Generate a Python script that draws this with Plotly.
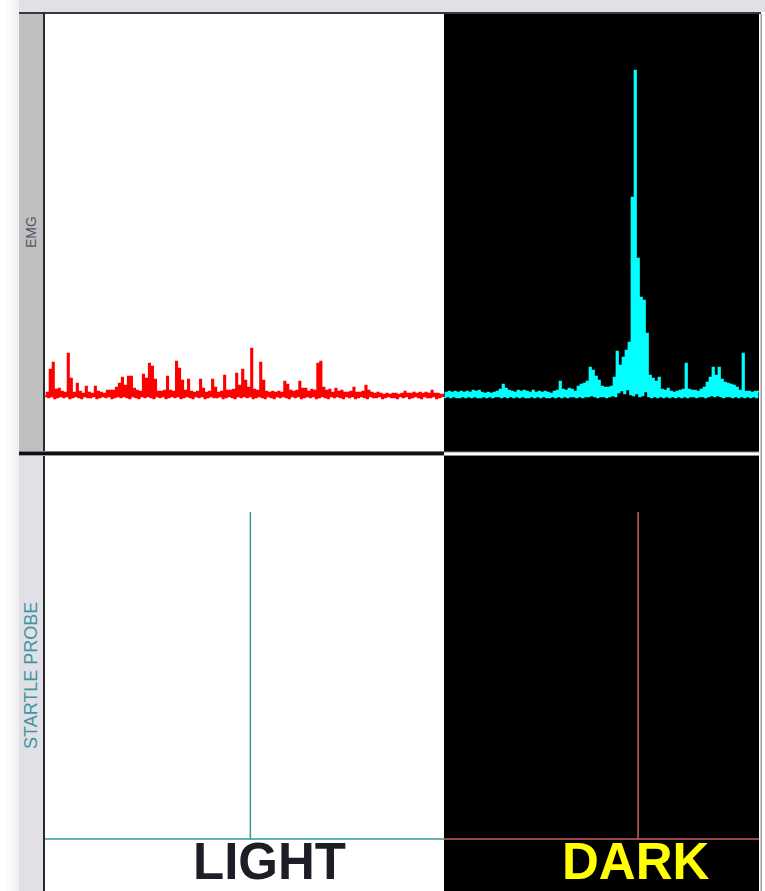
import plotly.graph_objects as go

W, H = 765, 891

# ---------------------------------------------------------------------------
# Data
# ---------------------------------------------------------------------------
bin_ms = 10  # EMG envelope bin width (ms)

# Rectified EMG, per-bin peak and trough (uV relative to resting baseline)
light_hi = [
    3, 26, 33, 6, 7, 4, 3, 42, 17, 3,
    12, 4, 2, 9, 3, 2, 9, 4, 3, 2,
    5, 5, 5, 8, 12, 18, 10, 19, 19, 7,
    5, 4, 21, 17, 32, 29, 16, 4, 4, 5,
    19, 5, 4, 34, 27, 15, 5, 16, 4, 3,
    4, 16, 7, 3, 4, 16, 8, 3, 4, 20,
    5, 5, 6, 22, 10, 26, 15, 8, 47, 6,
    5, 33, 15, 4, 3, 4, 3, 4, 3, 14,
    11, 5, 4, 5, 14, 7, 7, 4, 6, 5,
    32, 34, 8, 5, 6, 3, 7, 4, 5, 3,
    3, 4, 8, 3, 3, 4, 10, 5, 3, 2,
    3, 2, 1, 2, 1, 2, 2, 1, 2, 4,
    2, 2, 3, 2, 3, 2, 3, 2, 5, 2,
    2, 1, 1,
]
light_lo = [
    -1, -2, -1, -3, -2, -1, -2, -1, -3, -2,
    -1, -2, -3, -1, -2, -2, -1, -3, -2, -1,
    -2, -1, -3, -2, -1, -2, -1, -2, -3, -1,
    -2, -3, -1, -2, -1, -2, -3, -1, -2, -1,
    -3, -2, -1, -2, -1, -3, -2, -1, -2, -3,
    -1, -2, -1, -3, -2, -1, -2, -2, -1, -3,
    -2, -1, -2, -3, -1, -2, -1, -2, -1, -3,
    -2, -1, -2, -3, -1, -2, -3, -1, -2, -1,
    -2, -3, -1, -2, -1, -3, -2, -1, -2, -1,
    -3, -2, -1, -2, -3, -1, -2, -1, -2, -3,
    -1, -2, -1, -3, -2, -1, -2, -3, -1, -2,
    -2, -1, -3, -2, -1, -2, -2, -3, -1, -2,
    -1, -3, -2, -1, -2, -3, -1, -2, -2, -1,
    -3, -2, -1,
]
dark_hi = [
    3, 4, 3, 4, 3, 4, 3, 4, 3, 5,
    4, 5, 3, 2, 3, 2, 3, 4, 6, 11,
    7, 5, 4, 3, 5, 4, 5, 4, 3, 5,
    3, 4, 3, 4, 3, 2, 4, 5, 14, 6,
    5, 7, 6, 4, 9, 11, 12, 14, 28, 25,
    19, 15, 9, 8, 8, 9, 18, 44, 30, 38,
    45, 53, 198, 325, 137, 98, 95, 62, 20, 17,
    14, 18, 6, 5, 7, 4, 3, 4, 5, 6,
    32, 6, 5, 5, 4, 6, 8, 13, 18, 28,
    20, 28, 16, 13, 12, 11, 10, 8, 5, 42,
    4, 4, 3, 4, 4,
]
dark_lo = [
    -2, -1, -2, -1, -2, -2, -1, -2, -1, -2,
    -1, -2, -2, -1, -2, -1, -2, -1, -1, -2,
    -1, -2, -1, -2, -1, -2, -1, -2, -2, -1,
    -2, -1, -2, -1, -2, -2, -1, -2, -1, -2,
    -1, -2, -1, -1, -2, -1, -2, -1, -1, 0,
    -1, -2, -1, -1, -2, -1, 0, -1, 3, 5,
    2, 6, 1, 0, 2, -1, 0, 4, -1, -2,
    -1, -2, -1, -2, -1, -2, -1, -2, -1, -2,
    -1, -2, -1, -1, -2, -1, -1, -2, -1, 0,
    -1, 0, -1, -2, -1, -1, -2, -1, -2, -1,
    -2, -1, -2, -1, -2,
]

# Startle probe: onset within each epoch (ms) and normalised amplitude
conditions = ["LIGHT", "DARK"]
probe_onset_ms = [683, 647]
probe_amp = [1.0, 1.0]

# Epoch lengths (ms) shown in each column
epoch_ms = [1327, 1050]


# ---------------------------------------------------------------------------
# Helpers
# ---------------------------------------------------------------------------
def px(x):
    return x / W


def py(y):
    return 1 - y / H


def envelope(hi, lo):
    """Min/max decimated trace: trough then peak within every bin."""
    xs, ys = [], []
    for k, (h, l) in enumerate(zip(hi, lo)):
        xs += [k * bin_ms, k * bin_ms + bin_ms / 2]
        ys += [l, h]
    xs.append(len(hi) * bin_ms)
    ys.append(hi[-1])
    return xs, ys


def probe_trace(onset, amp, length):
    return [0, onset, onset, onset, length], [0, 0, amp, 0, 0]


# ---------------------------------------------------------------------------
# Figure
# ---------------------------------------------------------------------------
fig = go.Figure()

lx, ly = envelope(light_hi, light_lo)
dx, dy = envelope(dark_hi, dark_lo)
fig.add_trace(go.Scatter(x=lx, y=ly, mode="lines", line=dict(color="#ff0000", width=1.6, shape="hv"),
                         xaxis="x", yaxis="y", hoverinfo="skip"))
fig.add_trace(go.Scatter(x=dx, y=dy, mode="lines", line=dict(color="#00ffff", width=1.7, shape="hv"),
                         xaxis="x2", yaxis="y2", hoverinfo="skip"))

probe_colors = ["#2f9c9c", "#c8625e"]
for i, (cond, onset, amp) in enumerate(zip(conditions, probe_onset_ms, probe_amp)):
    x, y = probe_trace(onset, amp, epoch_ms[i])
    fig.add_trace(go.Scatter(x=x, y=y, mode="lines", line=dict(color=probe_colors[i], width=1.5),
                             xaxis="x3" if i == 0 else "x4", yaxis="y3" if i == 0 else "y4",
                             hoverinfo="skip", name=cond))

# panel geometry (pixels)
light_x = (45, 444)
dark_x = (444, 759)
top_y = (14, 452)
bot_y = (456, 891)
emg_base = 395.5
probe_base, probe_top = 839, 512

emg_range = [emg_base - top_y[1], emg_base - top_y[0]]
scale = probe_base - probe_top
probe_range = [(probe_base - bot_y[1]) / scale, (probe_base - bot_y[0]) / scale]

hidden = dict(visible=False, fixedrange=True)
fig.update_layout(
    xaxis=dict(domain=[px(light_x[0]), px(light_x[1])], range=[0, epoch_ms[0]], anchor="y", **hidden),
    xaxis2=dict(domain=[px(dark_x[0]), px(dark_x[1])], range=[0, epoch_ms[1]], anchor="y2", **hidden),
    xaxis3=dict(domain=[px(light_x[0]), px(light_x[1])], range=[0, epoch_ms[0]], anchor="y3", **hidden),
    xaxis4=dict(domain=[px(dark_x[0]), px(dark_x[1])], range=[0, epoch_ms[1]], anchor="y4", **hidden),
    yaxis=dict(domain=[py(top_y[1]), py(top_y[0])], range=emg_range, anchor="x", **hidden),
    yaxis2=dict(domain=[py(top_y[1]), py(top_y[0])], range=emg_range, anchor="x2", **hidden),
    yaxis3=dict(domain=[py(bot_y[1]), py(bot_y[0])], range=probe_range, anchor="x3", **hidden),
    yaxis4=dict(domain=[py(bot_y[1]), py(bot_y[0])], range=probe_range, anchor="x4", **hidden),
)


def rect(x0, y0, x1, y1, color):
    return dict(type="rect", xref="paper", yref="paper", x0=px(x0), x1=px(x1), y0=py(y1), y1=py(y0),
                fillcolor=color, line=dict(width=0), layer="below")


shapes = [
    # soft shading on the left margin
    rect(0, 0, 7, H, "#ffffff"),
    rect(7, 0, 12, H, "#fbfbfb"),
    rect(12, 0, 16, H, "#f6f6f7"),
    rect(16, 0, 19, H, "#f0f0f2"),
    # header bar
    rect(19, 0, W, 12, "#e1e0e6"),
    rect(19, 12, 761, 14, "#3a3a3a"),
    # channel label strips
    rect(19, 14, 43, 452, "#c0c0c0"),
    rect(19, 456, 43, H, "#e1e0e6"),
    rect(43, 12, 45, H, "#2a2a2a"),
    # dark-condition panels
    rect(444, 14, 759, 452, "#000000"),
    rect(444, 456, 759, H, "#000000"),
    # channel separator
    rect(19, 451, 444, 452, "#7a7a7a"),
    rect(19, 452, 444, 455, "#111111"),
    rect(19, 455, 444, 456, "#9a9a9a"),
    rect(444, 451.5, 759, 456, "#8a8a8a"),
    rect(444, 452.5, 759, 455, "#ffffff"),
    # right frame edge
    rect(759, 14, 760.5, H, "#ffffff"),
    rect(760.5, 14, 762, H, "#9a9a9a"),
]
fig.update_layout(shapes=shapes)

annotations = [
    dict(text="EMG", x=px(31), y=py(232), textangle=-90, yanchor="middle",
         font=dict(family="Arial", size=14, color="#55556a")),
    dict(text="STARTLE PROBE", x=px(31), y=py(676), textangle=-90, yanchor="middle",
         font=dict(family="Arial", size=18, color="#3f96a3")),
    dict(text="<b>LIGHT</b>", x=px(269), y=py(890.5), yanchor="bottom",
         font=dict(family="Arial", size=51, color="#1d1d25")),
    dict(text="<b>DARK</b>", x=px(635), y=py(890.5), yanchor="bottom",
         font=dict(family="Arial", size=51, color="#ffff00")),
]
for a in annotations:
    a.update(xref="paper", yref="paper", showarrow=False, xanchor="center", borderpad=0)
fig.update_layout(annotations=annotations)

fig.update_layout(
    width=W, height=H,
    margin=dict(l=0, r=0, t=0, b=0),
    paper_bgcolor="#ffffff",
    plot_bgcolor="rgba(0,0,0,0)",
    showlegend=False,
)

fig.write_html("out.html", config={"displayModeBar": False})
